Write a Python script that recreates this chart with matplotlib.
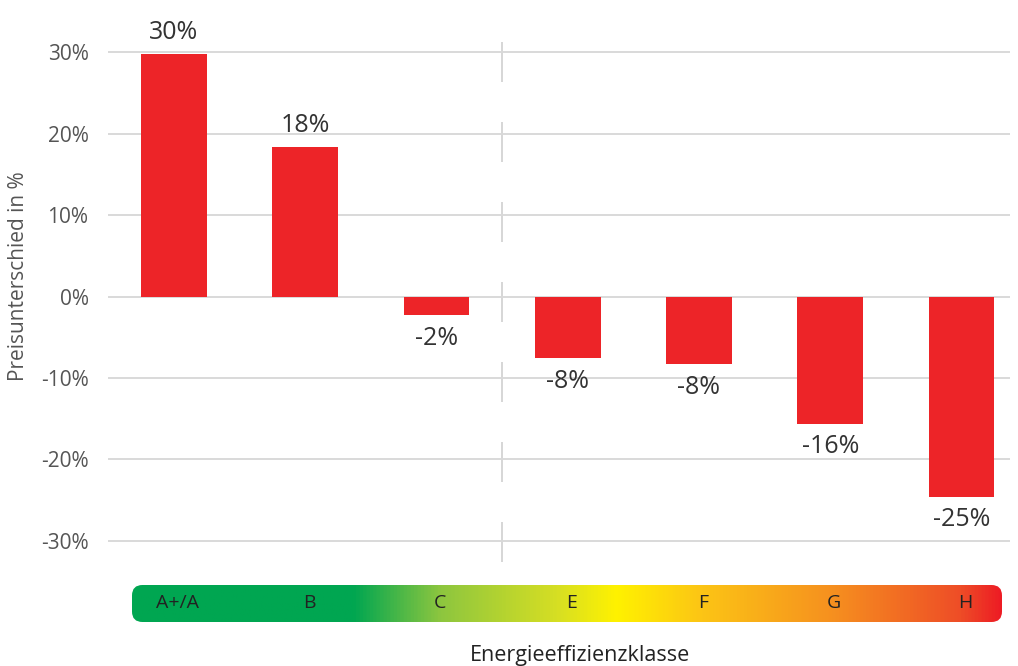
import numpy as np
import matplotlib
matplotlib.use("Agg")
import matplotlib.pyplot as plt
import matplotlib.transforms as mtransforms
from matplotlib.colors import LinearSegmentedColormap
from matplotlib.patches import FancyBboxPatch

plt.rcParams['font.family'] = ['Open Sans', 'DejaVu Sans']

# data
klassen = ['A+/A', 'B', 'C', 'E', 'F', 'G', 'H']
preisdiff = [29.8, 18.4, -2.3, -7.6, -8.3, -15.6, -24.6]
labels = ['30%', '18%', '-2%', '-8%', '-8%', '-16%', '-25%']
yticks = [-30, -20, -10, 0, 10, 20, 30]

# gradient stops (position, colour) for the efficiency scale
grad_pos = [0.0, 0.254, 0.354, 0.49, 0.557, 0.655, 0.806, 0.954, 1.0]
grad_col = ['#00a651', '#00a651', '#8dc63f', '#d7df23', '#fff200',
            '#fcc515', '#f6901f', '#ee4d27', '#ed1c24']

fig = plt.figure(figsize=(10.18, 6.66), dpi=100)
ax = fig.add_axes([108/1018, 1 - 562/666, 902/1018, 544/666])

x = np.arange(len(klassen))
ax.bar(x, preisdiff, width=0.5, color='#ed2428', zorder=3)

for xi, v, lab in zip(x, preisdiff, labels):
    if v >= 0:
        ax.text(xi, v + 1.1, lab, ha='center', va='bottom', fontsize=18, color='#333333')
    else:
        ax.text(xi, v - 1.3, lab, ha='center', va='top', fontsize=18, color='#333333')

ax.set_xlim(-0.503, 6.37)
ax.set_ylim(-32.6, 34.2)
ax.set_yticks(yticks)
ax.set_yticklabels([f'{t}%' for t in yticks], fontsize=15, color='#555555')
ax.set_xticks([])
ax.tick_params(axis='y', length=0, pad=14)
ax.grid(axis='y', color='#d9d9d9', lw=1.4, zorder=0)
for s in ax.spines.values():
    s.set_visible(False)

# dashed separator between C and E
ax.axvline(2.5, color='#d0d0d0', lw=1.2, dashes=(24, 24), zorder=1)

ax.set_ylabel('Preisunterschied in %', fontsize=15, color='#555555')
ax.yaxis.set_label_coords(-0.088, 0.526)

# efficiency colour scale
gax = fig.add_axes([132/1018, 1 - 622/666, 870/1018, 37/666])
cmap = LinearSegmentedColormap.from_list('eff', list(zip(grad_pos, grad_col)))
im = gax.imshow(np.linspace(0, 1, 512)[None, :], aspect='auto', cmap=cmap,
                extent=[0, 1, 0, 1])
clip = FancyBboxPatch((0, 0), 1, 1, boxstyle='round,pad=0,rounding_size=0.012',
                      transform=gax.transAxes, facecolor='none', edgecolor='none',
                      mutation_aspect=23.5)
gax.add_patch(clip)
im.set_clip_path(clip)
gax.set_xlim(0, 1)
gax.set_ylim(0, 1)
gax.axis('off')

trans = mtransforms.blended_transform_factory(ax.transData, gax.transAxes)
for xi, k in zip(x, klassen):
    fig.text(xi + 0.03, 0.5, k, transform=trans, ha='center', va='center',
             fontsize=14, color='#222222')

fig.text(580/1018, 1 - 655/666, 'Energieeffizienzklasse', ha='center', va='center',
         fontsize=15.5, color='#222222')

fig.savefig('out.png', dpi=100)
